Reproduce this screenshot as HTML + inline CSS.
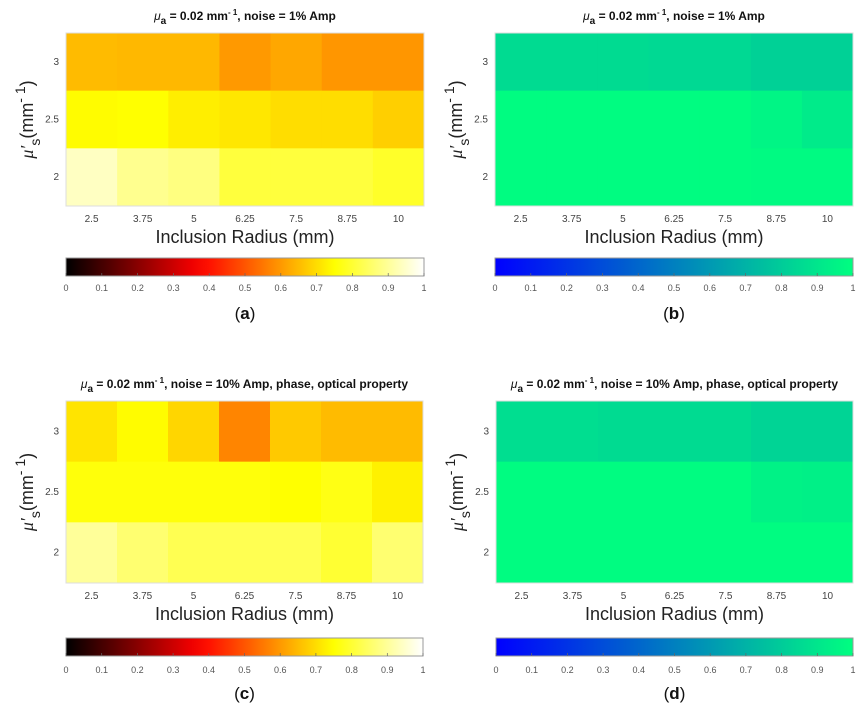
<!DOCTYPE html>
<html><head><meta charset="utf-8"><style>
body{margin:0;background:#fff;width:866px;height:709px;overflow:hidden}
svg{display:block}
text{font-family:"Liberation Sans",sans-serif}
</style></head><body>
<svg id="fig" width="866" height="709" xmlns="http://www.w3.org/2000/svg"></svg>
<script>
const radii = ["2.5","3.75","5","6.25","7.5","8.75","10"];
const musLabels = ["3","2.5","2"];
const cbTicks = ["0","0.1","0.2","0.3","0.4","0.5","0.6","0.7","0.8","0.9","1"];
const valuesA = [[0.65,0.645,0.645,0.6,0.62,0.595,0.595],[0.745,0.75,0.725,0.715,0.7,0.7,0.68],[0.94,0.89,0.875,0.81,0.81,0.81,0.79]];
const valuesB = [[0.86,0.86,0.86,0.85,0.85,0.82,0.82],[0.99,0.99,0.99,0.99,0.99,0.96,0.92],[0.99,0.99,0.99,0.99,0.99,0.98,0.98]];
const valuesC = [[0.71,0.745,0.69,0.57,0.67,0.65,0.65],[0.76,0.76,0.76,0.76,0.75,0.77,0.73],[0.9,0.86,0.83,0.83,0.83,0.8,0.86]];
const valuesD = [[0.87,0.87,0.86,0.86,0.86,0.83,0.83],[0.99,0.99,0.99,0.99,0.99,0.95,0.94],[0.99,0.99,0.99,0.99,0.99,0.99,0.99]];
const titleTop = "noise = 1% Amp";
const titleBot = "noise = 10% Amp, phase, optical property";

const NS="http://www.w3.org/2000/svg";
const svg=document.getElementById('fig');
function mk(t,a,p){const e=document.createElementNS(NS,t);for(const k in a)e.setAttribute(k,a[k]);(p||svg).appendChild(e);return e;}
const cl=x=>Math.max(0,Math.min(1,x));
function hot(v){return `rgb(${Math.round(255*cl(v/0.375))},${Math.round(255*cl((v-0.375)/0.375))},${Math.round(255*cl((v-0.75)/0.25))})`;}
function winter(v){return `rgb(0,${Math.round(255*v)},${Math.round(255*(1-0.5*v))})`;}

function panel(cfg){
  const g=mk('g',{});
  
  
  const {x0,x1,y0,y1,vals,cmap,letter,title,cbY,tickY,lblY,labY}=cfg;
  const nx=radii.length, ny=musLabels.length;
  const cw=(x1-x0)/nx, ch=(y1-y0)/ny;
  const xs=i=>x0+i*cw, ys=j=>y0+j*ch;
  const tt=mk('text',{x:(x0+x1)/2,y:y0-13,'text-anchor':'middle','font-size':'12','font-weight':'bold',fill:'#111'},g);
  
  
  tt.innerHTML=`<tspan font-style="italic" font-weight="normal">μ</tspan><tspan dy="4" font-size="10">a</tspan><tspan dy="-4"> = 0.02 mm</tspan><tspan dy="-5" font-size="8">- 1</tspan><tspan dy="5">, ${title}</tspan>`;
  for(let j=0;j<ny;j++)for(let i=0;i<nx;i++){
    const r=mk('rect',{x:xs(i),y:ys(j),width:cw+0.5,height:ch+0.5,fill:cmap(vals[j][i])},g);
    
    
  }
  mk('rect',{x:x0,y:y0,width:x1-x0,height:y1-y0,fill:'none',stroke:'#ddd','stroke-width':1},g);
  for(let i=0;i<nx;i++){
    const t=mk('text',{x:xs(i)+cw/2,y:y1+16,'text-anchor':'middle','font-size':'10',fill:'#444'},g);
    t.textContent=radii[i];
    
    
  }
  for(let j=0;j<ny;j++){
    const t=mk('text',{x:x0-7,y:ys(j)+ch/2+3,'text-anchor':'end','font-size':'10',fill:'#444'},g);
    t.textContent=musLabels[j];
    
    
  }
  const xl=mk('text',{x:(x0+x1)/2,y:y1+37,'text-anchor':'middle','font-size':'18',fill:'#222'},g);
  xl.textContent='Inclusion Radius (mm)';
  
  
  const cy=(y0+y1)/2;
  const yl=mk('text',{x:0,y:0,'text-anchor':'middle','font-size':'18',fill:'#222',transform:`translate(${x0-33},${cy}) rotate(-90)`},g);
  
  
  yl.innerHTML=`<tspan font-family="Liberation Serif" font-style="italic">μ′</tspan><tspan dy="7" font-size="14">s</tspan><tspan dy="-7">(mm</tspan><tspan dy="-8" font-size="14">- 1</tspan><tspan dy="8">)</tspan>`;
  const gid='grad'+letter;
  const defs=mk('defs',{},g);
  const lg=mk('linearGradient',{id:gid,x1:0,x2:1,y1:0,y2:0},defs);
  for(let k=0;k<=20;k++){mk('stop',{offset:k/20,'stop-color':cmap(k/20)},lg);}
  const cb=mk('rect',{x:x0,y:cbY,width:x1-x0,height:18,fill:`url(#${gid})`,stroke:'#999','stroke-width':1},g);
  
  
  for(let k=0;k<cbTicks.length;k++){
    const tx=x0+(x1-x0)*k/(cbTicks.length-1);
    mk('line',{x1:tx,x2:tx,y1:cbY+15,y2:cbY+18,stroke:'#666','stroke-width':0.7},g);
    const t=mk('text',{x:tx,y:tickY,'text-anchor':'middle','font-size':'9',fill:'#555'},g);
    t.textContent=cbTicks[k];
    
    
  }
  const pl=mk('text',{x:(x0+x1)/2,y:labY,'text-anchor':'middle','font-size':'17',fill:'#111'},g);
  pl.innerHTML=`(<tspan font-weight="bold">${letter}</tspan>)`;
  
  
}
panel({letter:'a',x0:66,x1:424,y0:33,y1:206,vals:valuesA,cmap:hot,title:titleTop,cbY:258,tickY:291,labY:319});
panel({letter:'b',x0:495,x1:853,y0:33,y1:206,vals:valuesB,cmap:winter,title:titleTop,cbY:258,tickY:291,labY:319});
panel({letter:'c',x0:66,x1:423,y0:401,y1:583,vals:valuesC,cmap:hot,title:titleBot,cbY:638,tickY:673,labY:699});
panel({letter:'d',x0:496,x1:853,y0:401,y1:583,vals:valuesD,cmap:winter,title:titleBot,cbY:638,tickY:673,labY:699});
</script>
</body></html>
